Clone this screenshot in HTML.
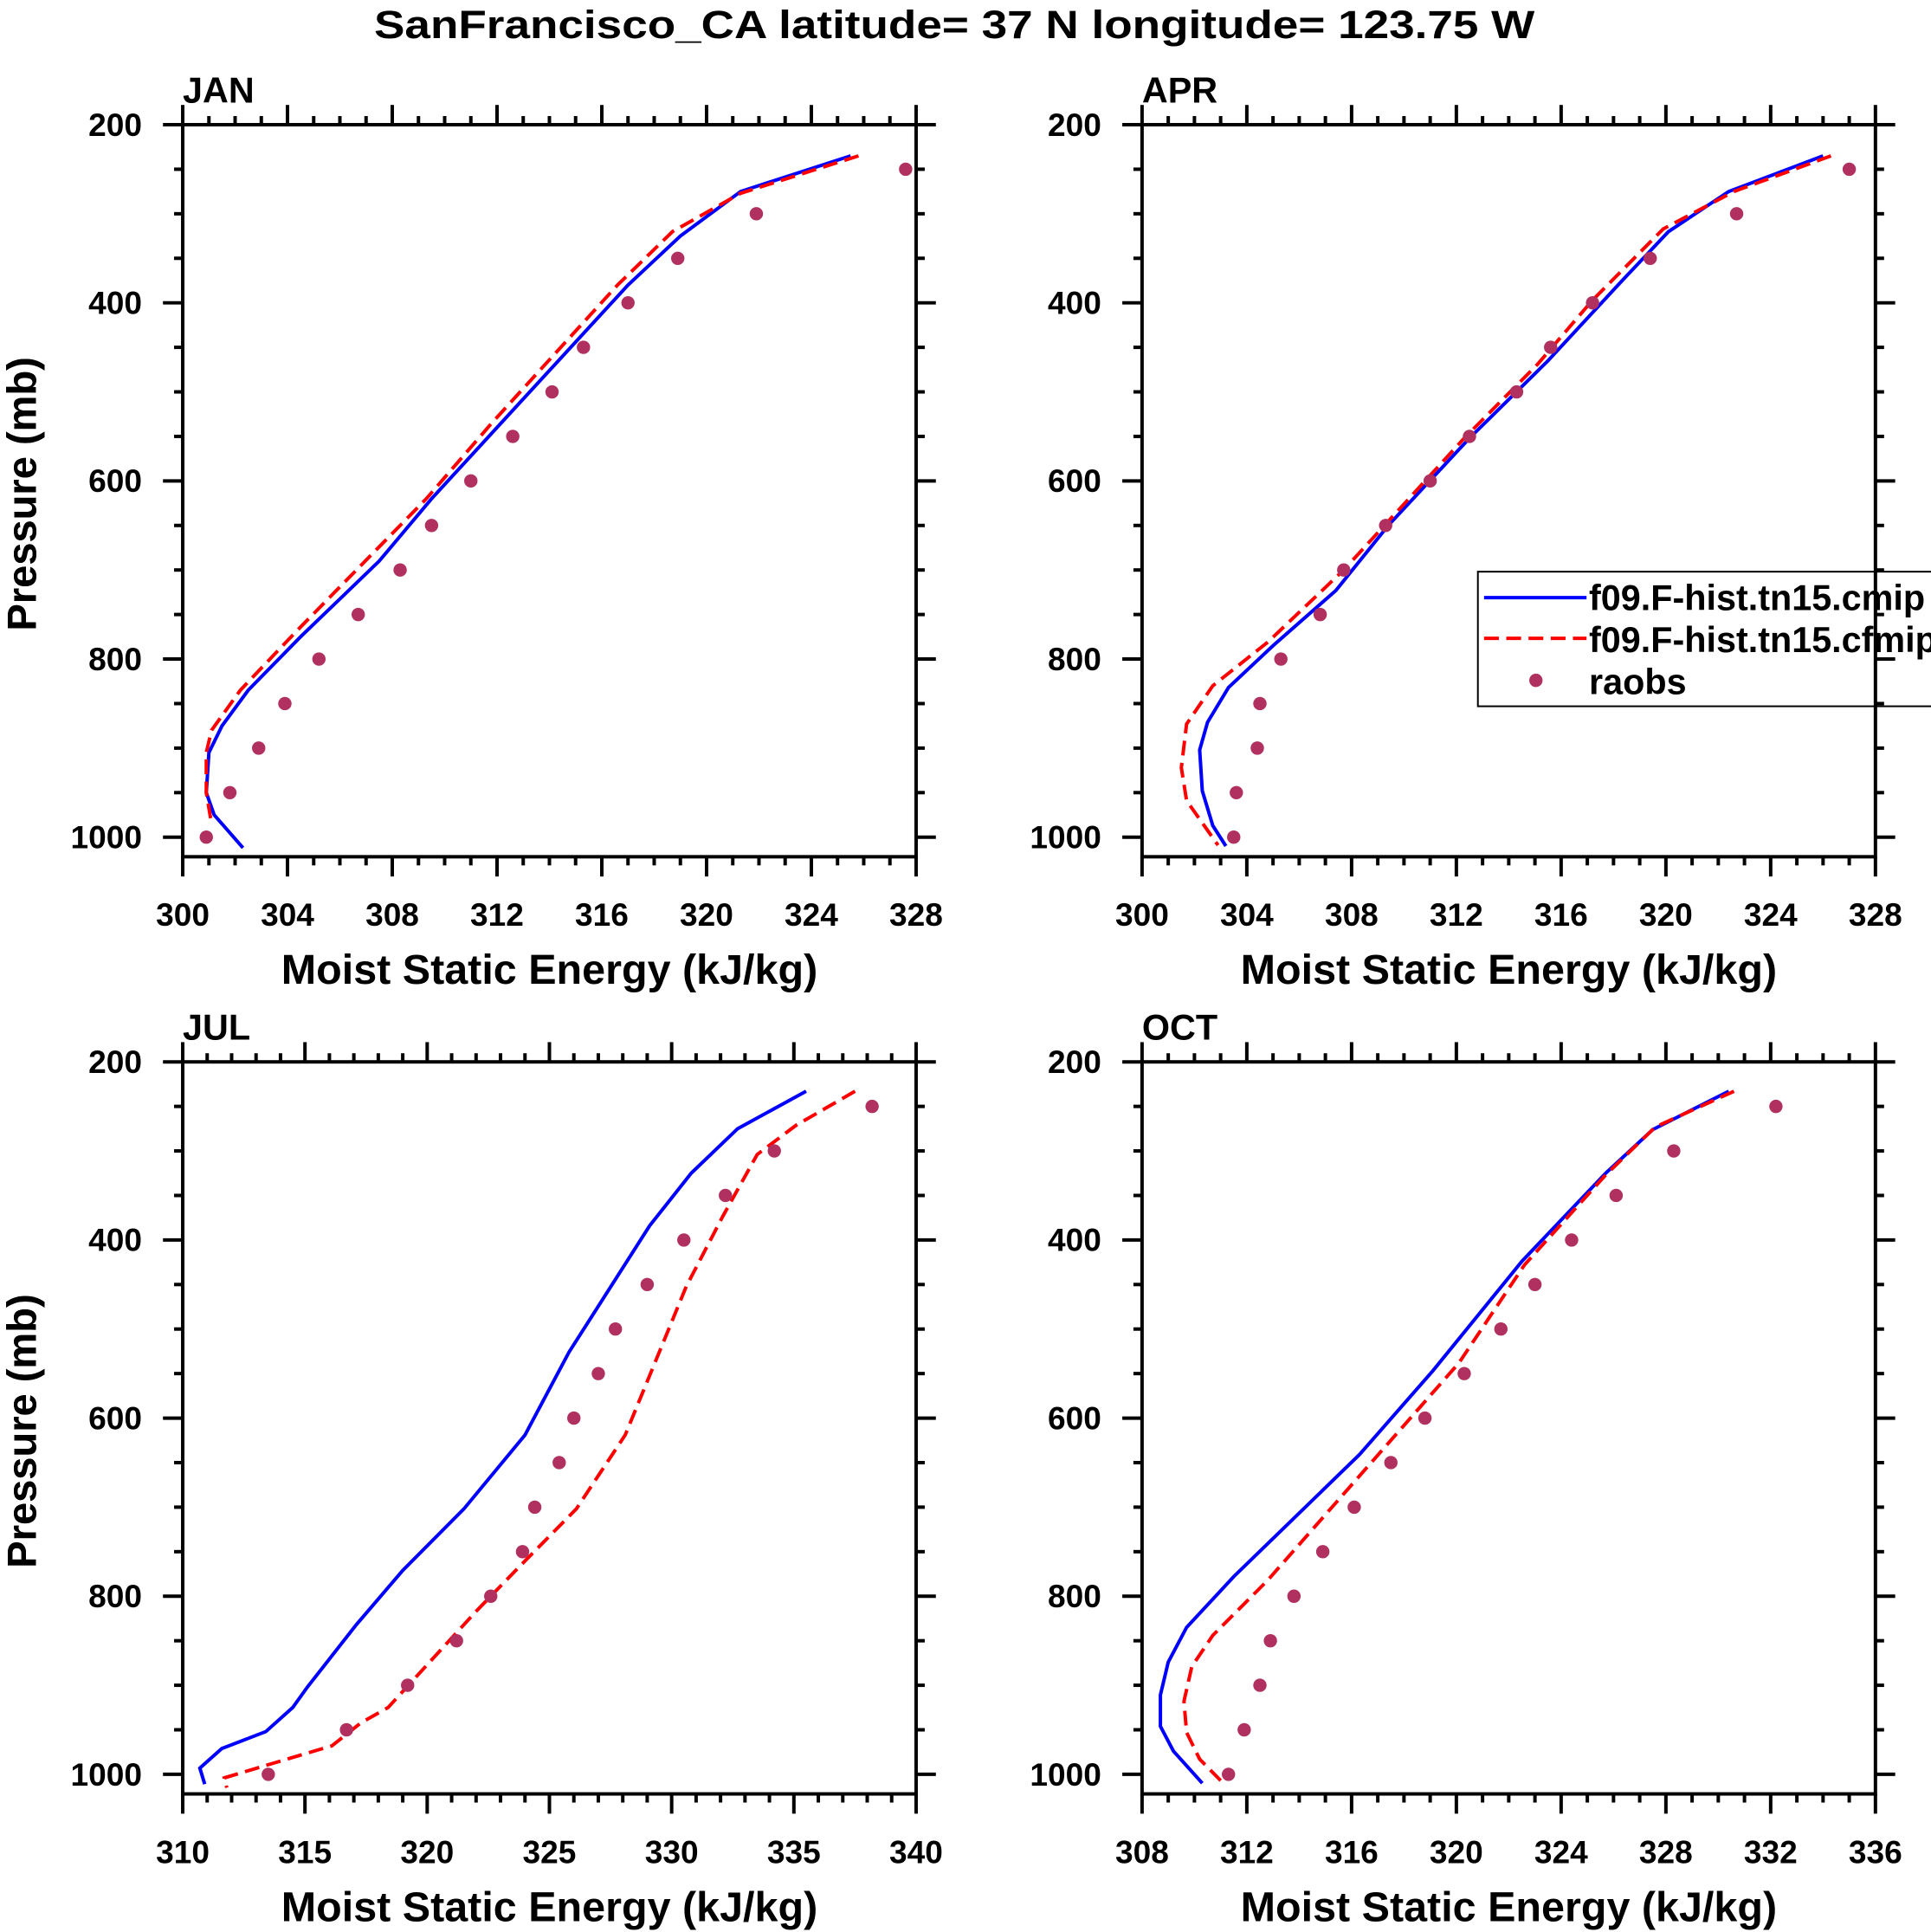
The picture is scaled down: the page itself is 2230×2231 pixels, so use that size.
<!DOCTYPE html>
<html><head><meta charset="utf-8"><style>
html,body{margin:0;padding:0;background:#fff;}
svg{display:block;font-family:"Liberation Sans",Arial,sans-serif;font-weight:bold;}
</style></head><body>
<svg id="chart" xmlns="http://www.w3.org/2000/svg" width="2230" height="2231" viewBox="0 0 1564 1564.7">
<text x="773" y="31" text-anchor="middle" font-size="32" textLength="940" lengthAdjust="spacingAndGlyphs">SanFrancisco_CA  latitude= 37 N longitude= 123.75 W</text>
</svg>
<script>
// ---- data ----
const obsPressure = [250,300,350,400,450,500,550,600,650,700,750,800,850,900,950,1000];
const janObs = [327.6,321.9,318.9,317.0,315.3,314.1,312.6,311.0,309.5,308.3,306.7,305.2,303.9,302.9,301.8,300.9];
const janCmipP = [235,275,325,380,540,620,690,775,835,875,905,950,975,1012];
const janCmipE = [325.5,321.3,319.0,317.0,312.0,309.5,307.5,304.5,302.5,301.5,301.0,300.9,301.2,302.3];
const janCfmipP = [235,277,320,380,535,620,770,835,880,905,950,985];
const janCfmipE = [325.8,321.3,318.7,316.6,311.8,309.3,304.3,302.2,301.1,300.9,300.9,301.1];
const aprObs = [327.0,322.7,319.4,317.2,315.6,314.3,312.5,311.0,309.3,307.7,306.8,305.3,304.5,304.4,303.6,303.5];
const aprCmipP = [235,275,320,376,465,552,650,723,785,832,871,902,948,987,1010];
const aprCmipE = [326.0,322.4,320.1,318.3,315.5,312.5,309.4,307.4,305.0,303.3,302.5,302.2,302.3,302.7,303.2];
const aprCfmipP = [235,275,317,397,469,552,700,781,830,873,922,959,1009];
const aprCfmipE = [326.3,322.6,319.9,317.2,315.1,312.3,307.7,304.8,302.7,301.7,301.5,301.7,302.9];
const julObs = [338.2,334.2,332.2,330.5,329.0,327.7,327.0,326.0,325.4,324.4,323.9,322.6,321.2,319.2,316.7,313.5];
const julCmipP = [233,275,325,384,526,619,702,771,832,902,925,952,971,993,1011];
const julCmipE = [335.5,332.7,330.8,329.1,325.8,324.0,321.5,319.0,317.1,315.1,314.5,313.4,311.6,310.7,310.9];
const julCfmipP = [233,271,304,373,452,619,702,766,817,925,942,968,990,1004,1015];
const julCfmipE = [337.5,335.1,333.5,332.1,330.6,328.1,326.1,323.8,322.0,318.4,317.3,316.1,313.4,311.7,311.8];
const octObs = [332.2,328.3,326.1,324.4,323.0,321.7,320.3,318.8,317.5,316.1,314.9,313.8,312.9,312.5,311.9,311.3];
const octCmipP = [233,276,325,424,547,641,778,835,874,911,946,974,1010];
const octCmipE = [330.4,327.5,325.7,322.5,319.1,316.3,311.5,309.7,309.0,308.7,308.7,309.2,310.3];
const octCfmipP = [233,273,327,428,538,782,844,879,918,953,983,1010];
const octCfmipE = [330.6,327.6,325.7,322.6,320.1,312.8,310.7,309.9,309.6,309.7,310.2,311.1];
const pTicks = [200,400,600,800,1000];
const janXTicks = [300,304,308,312,316,320,324,328];
const julXTicks = [310,315,320,325,330,335,340];
const octXTicks = [308,312,316,320,324,328,332,336];

const NS='http://www.w3.org/2000/svg';
const svg=document.getElementById('chart');
function mk(tag,attrs,parent){const e=document.createElementNS(NS,tag);for(const k in attrs)e.setAttribute(k,attrs[k]);(parent||svg).appendChild(e);return e;}

function panel(name,L,T,xmin,xmax,xTicks,xMinorStep,cmipP,cmipE,cfP,cfE,obs){
  const R=L+594;
  const g=mk('g',{});
  
  
  const X=v=>L+(v-xmin)/(xmax-xmin)*594;
  const Y=p=>T+(p-200)/800*577;
  const Bot=Y(1022);
  const ax=mk('g',{stroke:'#000','stroke-width':2.8,fill:'none'},g);
  
  
  mk('rect',{x:L,y:T,width:594,height:Bot-T},ax);
  for(let p=200;p<=1000;p+=50){
    const maj=(p%200===0), len=maj?16:7;
    mk('line',{x1:L-len,y1:Y(p),x2:L,y2:Y(p)},ax);
    mk('line',{x1:R,y1:Y(p),x2:R+len,y2:Y(p)},ax);
  }
  pTicks.forEach(p=>{
    const t=mk('text',{x:L-33,y:Y(p)+9,'text-anchor':'end','font-size':26},g);
    
    
    t.textContent=p;
  });
  const step=xTicks[1]-xTicks[0];
  for(let v=xmin;v<=xmax+1e-6;v+=xMinorStep){
    const maj=Math.abs(((v-xmin)/step)-Math.round((v-xmin)/step))<1e-6, len=maj?16:7;
    mk('line',{x1:X(v),y1:Bot,x2:X(v),y2:Bot+len},ax);
    mk('line',{x1:X(v),y1:T-len,x2:X(v),y2:T},ax);
  }
  xTicks.forEach(v=>{
    const t=mk('text',{x:X(v),y:Bot+56,'text-anchor':'middle','font-size':26},g);
    
    
    t.textContent=v;
  });
  const lab=mk('text',{x:L,y:T-18,'font-size':29},g);
  
  
  lab.textContent=name;
  const xt=mk('text',{x:L+297,y:Bot+103,'text-anchor':'middle','font-size':34},g);
  
  
  xt.textContent='Moist Static Energy (kJ/kg)';
  const yt=mk('text',{x:0,y:0,'text-anchor':'middle','font-size':33,transform:`translate(29,${T+299}) rotate(-90)`},g);
  
  
  yt.textContent='Pressure (mb)';
  const l1=mk('polyline',{points:cmipE.map((e,i)=>X(e)+','+Y(cmipP[i])).join(' '),stroke:'#0000ff','stroke-width':2.8,fill:'none'},g);
  
  
  const l2=mk('polyline',{points:cfE.map((e,i)=>X(e)+','+Y(cfP[i])).join(' '),stroke:'#ff0000','stroke-width':2.8,fill:'none','stroke-dasharray':'12 6'},g);
  
  
  obs.forEach((e,i)=>{
    const c=mk('circle',{cx:X(e),cy:Y(obsPressure[i]),r:5.4,fill:'#b03060'},g);
    
    
  });
}
panel('JAN',148,101,300,328,janXTicks,1,janCmipP,janCmipE,janCfmipP,janCfmipE,janObs);
panel('APR',925,101,300,328,janXTicks,1,aprCmipP,aprCmipE,aprCfmipP,aprCfmipE,aprObs);
panel('JUL',148,860,310,340,julXTicks,1,julCmipP,julCmipE,julCfmipP,julCfmipE,julObs);
panel('OCT',925,860,308,336,octXTicks,1,octCmipP,octCmipE,octCfmipP,octCfmipE,octObs);

const lg=mk('g',{});


mk('rect',{x:1197,y:463,width:380,height:109,fill:'none',stroke:'#000','stroke-width':1.4},lg);
mk('line',{x1:1202,y1:484,x2:1285,y2:484,stroke:'#0000ff','stroke-width':2.8},lg);
mk('line',{x1:1202,y1:517,x2:1285,y2:517,stroke:'#ff0000','stroke-width':2.8,'stroke-dasharray':'12 6'},lg);
mk('circle',{cx:1244,cy:551,r:5.4,fill:'#b03060'},lg);
const names=['f09.F-hist.tn15.cmip','f09.F-hist.tn15.cfmip','raobs'];
names.forEach((n,i)=>{
  const t=mk('text',{x:1287,y:494+i*34,'font-size':29},lg);
  
  
  t.textContent=n;
});
</script>
</body></html>
